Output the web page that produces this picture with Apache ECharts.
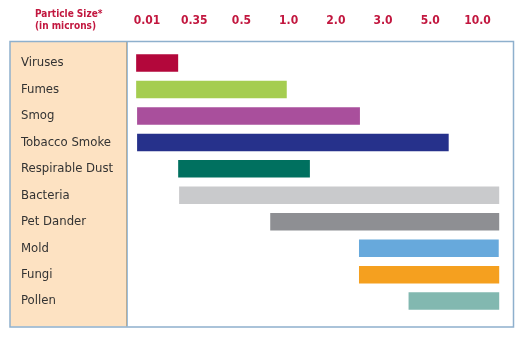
<!DOCTYPE html>
<html>
<head>
<meta charset="utf-8">
<script src="https://cdn.jsdelivr.net/npm/echarts@6/dist/echarts.min.js"></script>
<style>
  html, body { margin: 0; padding: 0; background: #ffffff; }
  #chart { width: 522px; height: 338px; }
</style>
</head>
<body>
<div id="chart"></div>
<script>
// Particle types, top to bottom
const categories = ['Viruses', 'Fumes', 'Smog', 'Tobacco Smoke', 'Respirable Dust',
  'Bacteria', 'Pet Dander', 'Mold', 'Fungi', 'Pollen'];

// Size scale labels, evenly spaced (position 0..7 on the axis)
const sizeTicks = ['0.01', '0.35', '0.5', '1.0', '2.0', '3.0', '5.0', '10.0'];

// Range of each particle type, in positions along the size scale
const rangeStart = [-0.23, -0.23, -0.21, -0.21, 0.66, 0.68, 2.61, 4.49, 4.49, 5.54];
const rangeEnd   = [0.66, 2.96, 4.51, 6.39, 3.45, 7.46, 7.46, 7.45, 7.46, 7.46];

const barColors = ['#b3073b', '#a5cd50', '#a94f9c', '#26318b', '#00705f',
  '#c9cacc', '#8e8f93', '#67a9dc', '#f5a01f', '#82b8b0'];

const labelFont = '"Liberation Sans Narrow", "DejaVu Sans Condensed", sans-serif';
const red = '#c2173f';

const chart = echarts.init(document.getElementById('chart'), null, { renderer: 'canvas' });

const seriesData = categories.map((c, i) => ({
  value: [i, rangeStart[i], rangeEnd[i]],
  itemStyle: { color: barColors[i] }
}));

chart.setOption({
  animation: false,
  backgroundColor: '#ffffff',
  grid: { left: 123.4, width: 389.5, top: 49.8, height: 264.5, containLabel: false },
  xAxis: {
    type: 'value',
    position: 'top',
    min: -0.5,
    max: 7.75,
    splitLine: { show: false },
    axisLine: { show: false },
    axisTick: { show: false },
    axisLabel: {
      customValues: sizeTicks.map((t, i) => i),
      formatter: v => sizeTicks[Math.round(v)],
      color: red,
      fontFamily: labelFont,
      fontWeight: 'bold',
      fontSize: 12,
      margin: 22.5
    }
  },
  yAxis: {
    type: 'category',
    data: categories,
    inverse: true,
    axisLine: { show: false },
    axisTick: { show: false },
    splitLine: { show: false },
    axisLabel: {
      align: 'left',
      margin: 102.4,
      color: '#333333',
      fontFamily: labelFont,
      fontSize: 13
    }
  },
  graphic: [
    {
      type: 'rect', z: -20,
      shape: { x: 10, y: 41.5, width: 117, height: 285 },
      style: { fill: '#fde2c2' }
    },
    {
      type: 'line', z: -10,
      shape: { x1: 126.5, y1: 41.5, x2: 126.5, y2: 326.5 },
      style: { stroke: '#b9ab94', lineWidth: 1 }
    },
    {
      type: 'line', z: -10,
      shape: { x1: 127.5, y1: 41.5, x2: 127.5, y2: 326.5 },
      style: { stroke: '#9cbedb', lineWidth: 1 }
    },
    {
      type: 'rect', z: -5,
      shape: { x: 10, y: 41.5, width: 503.5, height: 285.5 },
      style: { fill: 'none', stroke: '#8eb0cd', lineWidth: 1.5 }
    },
    {
      type: 'text', left: 35, top: 8,
      style: {
        text: 'Particle Size*\n(in microns)',
        fill: red,
        font: 'bold 10px ' + labelFont,
        lineHeight: 12.5
      }
    }
  ],
  series: [{
    type: 'custom',
    renderItem: function (params, api) {
      const cat = api.value(0);
      const p0 = api.coord([api.value(1), cat]);
      const p1 = api.coord([api.value(2), cat]);
      const h = 17.5;
      return {
        type: 'rect',
        shape: { x: p0[0], y: p0[1] - h / 2, width: p1[0] - p0[0], height: h },
        style: api.style()
      };
    },
    encode: { x: [1, 2], y: 0 },
    data: seriesData
  }]
});
</script>
</body>
</html>
